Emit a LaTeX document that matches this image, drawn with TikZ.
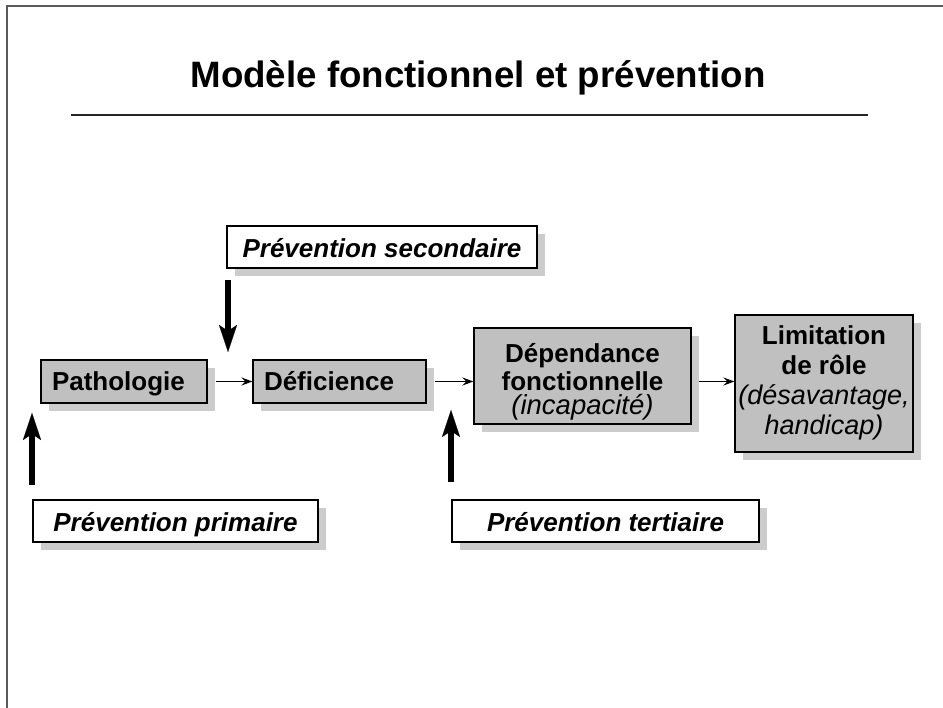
\documentclass[tikz,border=0pt]{standalone}
\usepackage{fontspec}
\setmainfont{Liberation Sans}
\usetikzlibrary{arrows.meta,shadows}
\definecolor{boxgray}{RGB}{192,192,192}
\definecolor{shadowgray}{RGB}{204,204,204}
\definecolor{framegray}{RGB}{90,90,90}
\tikzset{
  shd/.style={drop shadow={shadow xshift=8pt,shadow yshift=-8pt,fill=shadowgray,opacity=1}},
  mainbox/.style={shd,draw=black,line width=1.2pt,fill=boxgray,inner sep=0pt,
    font=\fontsize{26}{30}\selectfont\bfseries},
  prevbox/.style={shd,draw=black,line width=1.2pt,fill=white,inner sep=0pt,
    text height=23pt,text depth=1pt,
    font=\fontsize{26}{31}\selectfont\bfseries\itshape},
  flow/.style={line width=1.8pt,-{Stealth[length=11pt,width=8pt,inset=4pt]}},
  bigarrow/.style={line width=6pt,-{Stealth[length=27pt,width=18pt,inset=6pt,line width=0.1pt]}}
}
\newcommand{\itl}[1]{{\mdseries\itshape #1}}
\begin{document}
\begin{tikzpicture}[x=1pt,y=-1pt]
\useasboundingbox (0,0) rectangle (943,708);
\fill[white] (0,0) rectangle (943,708);
% frame
\draw[framegray,line width=2pt] (943,6) -- (7,6) -- (7,708);
% title
\node[anchor=base,inner sep=0pt] (title) at (478,88) {\fontsize{36.7}{44}\selectfont\bfseries Modèle fonctionnel et prévention};
\draw[line width=1.5pt,black!85] (71,115) -- (868,115);
% boxes
\node[mainbox,minimum width=166pt,minimum height=43pt,text height=21pt,text depth=3pt] (path) at (124,381.5)
  {\makebox[144pt][l]{Pathologie}};
\node[mainbox,minimum width=173pt,minimum height=43pt,text height=21pt,text depth=3pt] (def) at (339.5,381.5)
  {\makebox[151pt][l]{Déficience}};
\node[mainbox,minimum width=217pt,minimum height=96pt,text height=20pt,text depth=47pt] (dep) at (582.5,376)
  {\fontsize{26}{28}\selectfont\begin{tabular}[t]{@{}c@{}}Dépendance\\fonctionnelle\\[-5pt]\itl{\fontsize{27.5}{28}\selectfont (incapacité)}\end{tabular}};
\node[mainbox,minimum width=178pt,minimum height=137pt,text height=20pt,text depth=97pt] (lim) at (824,383.5)
  {\begin{tabular}[t]{@{}c@{}}Limitation\\de rôle\\\itl{\fontsize{27}{30}\selectfont (désavantage,}\\\itl{\fontsize{27}{30}\selectfont handicap)}\end{tabular}};
\node[prevbox,minimum width=310pt,minimum height=42pt] (sec) at (382,247) {Prévention secondaire};
\node[prevbox,minimum width=285pt,minimum height=42pt] (prim) at (175.5,521) {Prévention primaire};
\node[prevbox,minimum width=307pt,minimum height=42pt] (ter) at (605.5,521) {Prévention tertiaire};
% flow arrows
\draw[flow] ([xshift=8pt]path.east) -- (def.west);
\draw[flow] ([xshift=8pt]def.east) -- (def.east -| dep.west);
\draw[flow] ([xshift=7pt]dep.east |- def.east) -- (lim.west |- def.east);
% prevention arrows
\coordinate (s1) at (228,280);
\coordinate (s2) at (228,352);
\coordinate (p1) at (32,485);
\coordinate (p2) at (32,413);
\coordinate (t1) at (451,482);
\coordinate (t2) at (451,410);
\draw[bigarrow] (s1) -- (s2);
\draw[bigarrow] (p1) -- (p2);
\draw[bigarrow] (t1) -- (t2);
\end{tikzpicture}
\end{document}
